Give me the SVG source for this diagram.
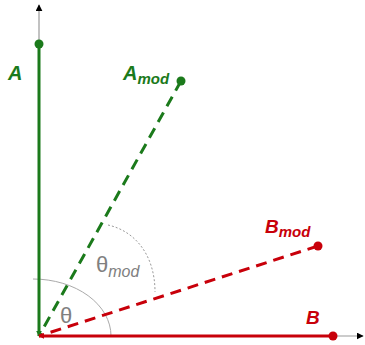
<svg xmlns="http://www.w3.org/2000/svg" width="365" height="345" viewBox="0 0 365 345">
<style>
.axis{stroke:#999;stroke-width:1.2;fill:none}
.g{stroke:#1b7a1b;stroke-width:3;fill:none}
.r{stroke:#c8000a;stroke-width:3;fill:none}
.dash{stroke-dasharray:11,7}
.gf{fill:#1b7a1b}
.rf{fill:#c8000a}
.lbl{font-family:"Liberation Sans",Arial,sans-serif;font-weight:bold;font-style:italic}
.th{font-family:"Liberation Sans",Arial,sans-serif;fill:#808080}
</style>
<defs>
<marker id="ax" viewBox="0 0 10 10" refX="9" refY="5" markerWidth="7" markerHeight="7" orient="auto" markerUnits="userSpaceOnUse"><path d="M0,0 L10,5 L0,10 z" fill="#000"/></marker>
<marker id="ga" viewBox="0 0 10 10" refX="9" refY="5" markerWidth="6" markerHeight="6" orient="auto" markerUnits="userSpaceOnUse"><path d="M0,0 L10,5 L0,10 z" fill="#1b7a1b"/></marker>
<marker id="ra" viewBox="0 0 10 10" refX="9" refY="5" markerWidth="6" markerHeight="6" orient="auto" markerUnits="userSpaceOnUse"><path d="M0,0 L10,5 L0,10 z" fill="#c8000a"/></marker>
</defs>
<g id="axes">
<line class="axis" x1="39" y1="336" x2="39" y2="5" marker-end="url(#ax)"/>
<line class="axis" x1="39" y1="336" x2="363" y2="336" marker-end="url(#ax)"/>
</g>
<g id="angles">
<path d="M33,279 A78,57 0 0 1 111,336" fill="none" stroke="#aaa" stroke-width="1"/>
<path d="M108,225 C135,231 155,255 155,292" fill="none" stroke="#999" stroke-width="1" stroke-dasharray="2,2"/>
</g>
<g id="connectors">
<line class="g" x1="39" y1="44" x2="39" y2="336" marker-end="url(#ga)"/>
<line class="r" x1="333" y1="336" x2="39" y2="336" marker-end="url(#ra)"/>
<line class="g dash" x1="181" y1="81" x2="39" y2="336"/>
<line class="r dash" x1="318" y1="246" x2="39" y2="336"/>
</g>
<g id="A"><circle cx="39" cy="44" r="4.5" class="gf"/><text x="8" y="80" class="lbl gf" font-size="20">A</text></g>
<g id="Amod"><circle cx="181" cy="81" r="4.5" class="gf"/><text x="123" y="80" class="lbl gf" font-size="20">A<tspan font-size="15" dy="4">mod</tspan></text></g>
<g id="B"><circle cx="333" cy="336" r="4.5" class="rf"/><text x="306" y="324" class="lbl rf" font-size="19">B</text></g>
<g id="Bmod"><circle cx="318" cy="246" r="4.5" class="rf"/><text x="265" y="233" class="lbl rf" font-size="19">B<tspan font-size="15" dy="4">mod</tspan></text></g>
<g id="theta"><text x="60" y="323" class="th" font-size="22">θ</text></g>
<g id="thetamod"><text x="96" y="272" class="th" font-size="22">θ<tspan font-size="16" font-style="italic" dy="5">mod</tspan></text></g>
</svg>
